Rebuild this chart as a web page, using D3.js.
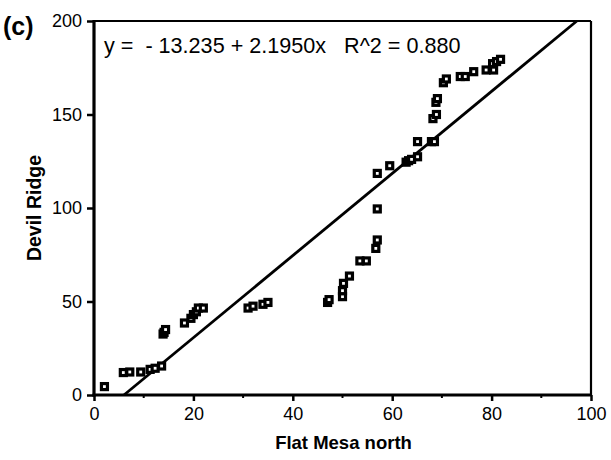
<!DOCTYPE html>
<meta charset="utf-8" />
<head>
  <style>
    body { margin: 0; background: #fff; }
    svg text { font-family: "Liberation Sans", Arial, Helvetica, sans-serif; fill: #000; }
  </style>
  <script src="https://d3js.org/d3.v7.min.js"></script>
</head>
<body>
  <svg width="611" height="460"></svg>
  <script>
    // values
    const flatMesa = [2.1, 5.9, 7.2, 9.4, 11.3, 12.3, 13.6, 13.9, 14.1, 14.4,
      18.2, 19.5, 20, 20.6, 21, 22, 31, 32, 34, 35,
      47, 47.3, 50, 50, 50.2, 51.4, 53.5, 54.8, 56.7, 57,
      57, 57, 59.5, 62.8, 63.3, 63.9, 65.1, 65.1, 67.9, 68.5,
      68.2, 68.9, 68.8, 69.1, 70.3, 70.9, 73.7, 74.7, 76.4, 78.9,
      80.4, 80.2, 81, 81.8];
    const devilRidge = [4.5, 12, 12.3, 12.3, 13.7, 14.3, 15.5, 32.6, 33.5, 35,
      38.5, 41, 43, 44.5, 46.5, 46.5, 46.5, 47.5, 48.5, 49.5,
      49.5, 51, 52.6, 55.8, 59.7, 63.6, 71.7, 71.7, 78.4, 82.9,
      99.5, 118.5, 122.6, 124.5, 125.3, 126, 127.4, 135.5, 135.5, 135.5,
      147.8, 150, 156.5, 158.5, 167, 169, 170.3, 170.3, 172.9, 173.8,
      173.8, 177.2, 178.3, 179.5];
    const intercept = -13.235, slope = 2.1950;
    const xTicks = [0, 20, 40, 60, 80, 100];
    const xMinorTicks = [10, 30, 50, 70, 90];
    const yTicks = [0, 50, 100, 150, 200];

    const svg = d3.select("svg");
    const plotL = 94, plotR = 591, plotT = 21, plotB = 395;

    const x = d3.scaleLinear().domain([0, 100]).range([plotL, plotR]);
    const y = d3.scaleLinear().domain([0, 200]).range([plotB, plotT]);

    // frame (top and right thinner)
    svg.append("line").attr("x1", plotL).attr("x2", plotR).attr("y1", plotT).attr("y2", plotT)
      .attr("stroke", "#000").attr("stroke-width", 2.2);
    svg.append("line").attr("x1", plotR).attr("x2", plotR).attr("y1", plotT).attr("y2", plotB)
      .attr("stroke", "#000").attr("stroke-width", 2.2);

    // x axis
    const gx = svg.append("g").attr("transform", "translate(0," + plotB + ")")
      .call(d3.axisBottom(x).tickValues(xTicks).tickSize(6).tickPadding(6).tickFormat(d3.format("d")));
    gx.append("g").selectAll("line").data(xMinorTicks).enter().append("line")
      .attr("x1", d => x(d)).attr("x2", d => x(d)).attr("y1", 0).attr("y2", 3)
      .attr("stroke", "#000").attr("stroke-width", 2);

    // y axis
    const gy = svg.append("g").attr("transform", "translate(" + plotL + ",0)")
      .call(d3.axisLeft(y).tickValues(yTicks).tickSize(7).tickPadding(5).tickFormat(d3.format("d")));

    [gx, gy].forEach(g => {
      g.select(".domain").remove();
      g.selectAll(".tick line").attr("stroke-width", 2.5);
      g.selectAll(".tick text").style("font-size", "18px").attr("fill", "#000");
    });
    // thick left and bottom spines
    svg.append("line").attr("x1", plotL - 1.5).attr("x2", plotR + 1).attr("y1", plotB).attr("y2", plotB)
      .attr("stroke", "#000").attr("stroke-width", 3.2);
    svg.append("line").attr("x1", plotL).attr("x2", plotL).attr("y1", plotT - 1).attr("y2", plotB + 1.5)
      .attr("stroke", "#000").attr("stroke-width", 3.2);

    // regression line, clipped to the plot
    const x0 = (0 - intercept) / slope, x1 = (200 - intercept) / slope;
    svg.append("line")
      .attr("x1", x(x0)).attr("y1", y(intercept + slope * x0))
      .attr("x2", x(x1)).attr("y2", y(intercept + slope * x1))
      .attr("stroke", "#000").attr("stroke-width", 2.8);

    // points
    const pts = flatMesa.map((v, i) => ({ x: v, y: devilRidge[i] }));
    svg.append("g").selectAll("rect").data(pts).enter().append("rect")
      .attr("x", d => x(d.x) - 3).attr("y", d => y(d.y) - 3)
      .attr("width", 6).attr("height", 6)
      .attr("fill", "#fff").attr("stroke", "#000").attr("stroke-width", 3.2);

    // texts
    svg.append("text").attr("x", 3).attr("y", 35)
      .style("font-size", "25px").style("font-weight", "bold").text("(c)");
    svg.append("text").attr("x", 104).attr("y", 53)
      .style("font-size", "21.6px").style("white-space", "pre")
      .text("y =  - 13.235 + 2.1950x   R^2 = 0.880");
    svg.append("text").attr("x", (plotL + plotR) / 2 + 1).attr("y", 449)
      .attr("text-anchor", "middle").style("font-size", "18.5px").style("font-weight", "bold")
      .text("Flat Mesa north");
    svg.append("text").attr("transform", "translate(41," + ((plotT + plotB) / 2) + ") rotate(-90)")
      .attr("text-anchor", "middle").style("font-size", "19.5px").style("font-weight", "bold")
      .text("Devil Ridge");
  </script>
</body>
